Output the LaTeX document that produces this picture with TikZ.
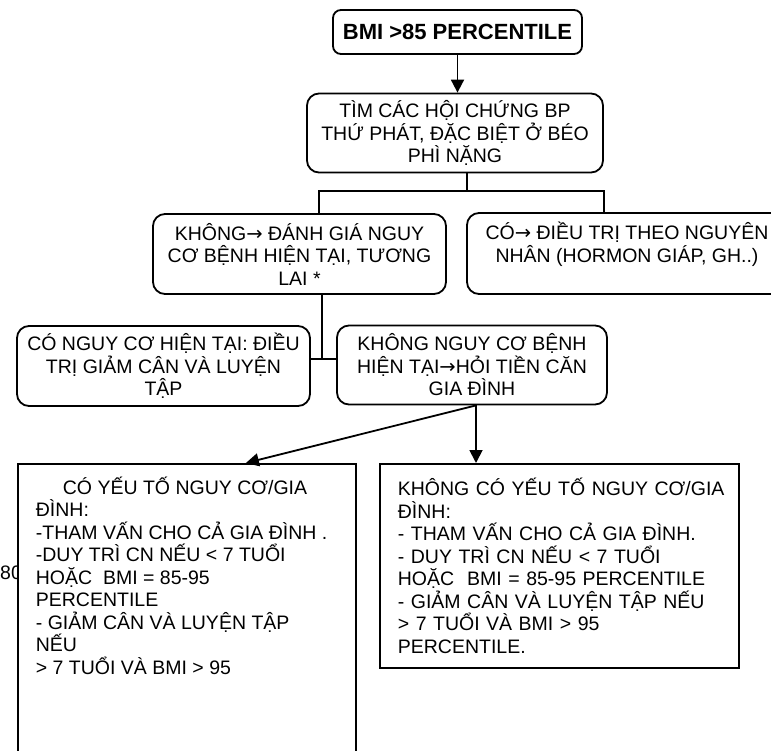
\documentclass[tikz,border=0pt]{standalone}
\usepackage{fontspec}
\setmainfont{Liberation Sans}
\newfontfamily\arrowfont{DejaVu Sans}
\newcommand{\goes}{{\arrowfont →}}
\usetikzlibrary{arrows.meta}

\begin{document}
\begin{tikzpicture}[
    x=1pt, y=-1pt,
    every node/.style={font=\fontsize{19.5}{22.5}\selectfont, inner sep=0pt},
    roundbox/.style={draw, line width=1.8pt, rounded corners=12pt, align=center},
    plainbox/.style={draw, line width=1.8pt, fill=white, align=left, anchor=north west},
    conn/.style={line width=1.8pt},
    arr/.style={conn, -{Triangle[length=13pt, width=13pt]}}
]
\useasboundingbox (0,0) rectangle (771,750);
\clip (0,0) rectangle (771,750);

% stray number, mostly under the left box
\node[anchor=base west] (stray) at (0,579) {80};

\node[roundbox, rounded corners=8pt, minimum width=249pt, minimum height=44pt,
      font=\fontsize{22}{24}\selectfont\bfseries] (start) at (457.5,32) {BMI >85 PERCENTILE};
\node[roundbox, minimum width=296pt, minimum height=79pt] (screen) at (455,133)
    {TÌM CÁC HỘI CHỨNG BP\\THỨ PHÁT, ĐẶC BIỆT Ở BÉO\\PHÌ NẶNG};

\node[roundbox, minimum width=293pt, minimum height=80pt] (nocause) at (299.5,254)
    {KHÔNG\goes{} ĐÁNH GIÁ NGUY\\CƠ BỆNH HIỆN TẠI, TƯƠNG\\LAI *};
\node[roundbox, minimum width=320pt, minimum height=81pt] (cause) at (627,253.5)
    {CÓ\goes{} ĐIỀU TRỊ THEO NGUYÊN\\NHÂN (HORMON GIÁP, GH..)\\\mbox{}};

\node[roundbox, minimum width=293pt, minimum height=80pt] (riskyes) at (163.5,366)
    {CÓ NGUY CƠ HIỆN TẠI: ĐIỀU\\TRỊ GIẢM CÂN VÀ LUYỆN\\TẬP};
\node[roundbox, minimum width=270pt, minimum height=79pt] (riskno) at (472,365)
    {KHÔNG NGUY CƠ BỆNH\\HIỆN TẠI\goes{}HỎI TIỀN CĂN\\GIA ĐÌNH};

\node[plainbox, inner xsep=18pt, inner ysep=13pt] (famyes) at (17,463)
    {\parbox[t][300pt][t]{302pt}{\raggedright
     \hspace*{27pt}CÓ YẾU TỐ NGUY CƠ/GIA\\
     ĐÌNH:\\
     -THAM VẤN CHO CẢ GIA ĐÌNH .\\
     -DUY TRÌ CN NẾU < 7 TUỔI\\
     HOẶC\ \ BMI = 85-95\\
     PERCENTILE\\
     - GIẢM CÂN VÀ LUYỆN TẬP\\
     NẾU\\
     > 7 TUỔI VÀ BMI > 95}};
\node[plainbox, text width=323pt, inner xsep=18pt, minimum height=204pt] (famno) at (379,463)
    {\mbox{KHÔNG CÓ YẾU TỐ NGUY CƠ/GIA}\\
     ĐÌNH:\\
     - THAM VẤN CHO CẢ GIA ĐÌNH.\\
     - DUY TRÌ CN NẾU < 7 TUỔI\\
     \mbox{HOẶC\ \ BMI = 85-95 PERCENTILE}\\
     \mbox{- GIẢM CÂN VÀ LUYỆN TẬP NẾU}\\
     > 7 TUỔI VÀ BMI > 95\\
     PERCENTILE.};

% connectors
\coordinate (fork) at (467,191);
\coordinate (tee) at (322,359);
\coordinate (out) at (476,404);

\draw[arr] (start.south) -- (start.south |- screen.north);
\draw[conn] (screen.south -| fork) -- (fork);
\draw[conn] ([xshift=19.5pt]nocause.north) |- (fork) -| ([xshift=-23pt]cause.north);
\draw[conn] (nocause.south -| tee) -- (tee);
\draw[conn] (riskyes.east |- tee) -- (riskno.west |- tee);
\draw[arr] (riskno.south -| out) -- (famno.north -| out);
\draw[arr] (riskno.south -| out) -- ([xshift=59pt]famyes.north);

\end{tikzpicture}
\end{document}
